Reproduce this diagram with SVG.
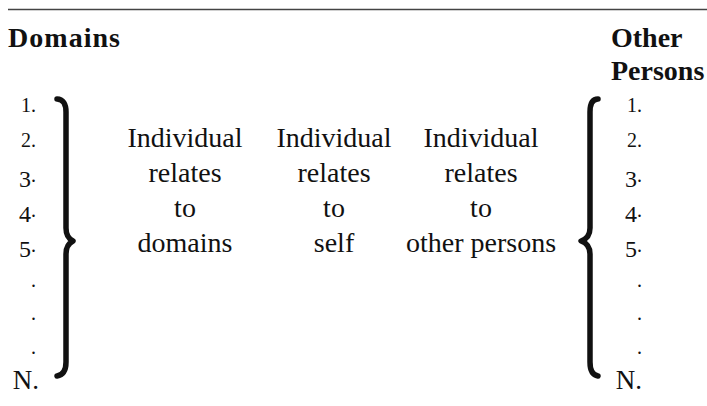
<svg xmlns="http://www.w3.org/2000/svg" width="707" height="406" viewBox="0 0 707 406">
<style>
  .t { font-family: "Liberation Serif", "Times New Roman", serif; font-size: 28px; fill: #111; text-anchor: middle; }
  .h { font-family: "Liberation Serif", "Times New Roman", serif; font-size: 28px; font-weight: bold; fill: #111; }
  .n { font-family: "Liberation Serif", "Times New Roman", serif; font-size: 20px; fill: #111; text-anchor: end; }
  .d { font-size: 24px; }
  .N { font-size: 27px; }
  .brace { fill: none; stroke: #111; stroke-width: 5.5; stroke-linecap: round; stroke-linejoin: round; }
  .rule { stroke: #444; stroke-width: 1.5; }
</style>
<rect width="707" height="406" fill="#fff"/>
<line class="rule" x1="8" y1="9.5" x2="707" y2="9.5"/>

<g id="domains-heading">
  <text class="h" x="8" y="47" textLength="112" lengthAdjust="spacing">Domains</text>
</g>
<g id="persons-heading">
  <text class="h" x="611" y="47">Other</text>
  <text class="h" x="611" y="80">Persons</text>
</g>

<g id="domains-list">
  <text class="n" x="36" y="112">1.</text>
  <text class="n" x="36" y="147">2.</text>
  <text class="n" x="36" y="182"><tspan class="d" dy="5">3</tspan><tspan dy="-5">.</tspan></text>
  <text class="n" x="36" y="217"><tspan class="d" dy="5">4</tspan><tspan dy="-5">.</tspan></text>
  <text class="n" x="36" y="252"><tspan class="d" dy="5">5</tspan><tspan dy="-5">.</tspan></text>
  <text class="n" x="36" y="287">.</text>
  <text class="n" x="36" y="320">.</text>
  <text class="n" x="36" y="354">.</text>
  <text class="n N" x="39" y="389">N.</text>
</g>

<g id="persons-list">
  <text class="n" x="642" y="112">1.</text>
  <text class="n" x="642" y="147">2.</text>
  <text class="n" x="642" y="182"><tspan class="d" dy="5">3</tspan><tspan dy="-5">.</tspan></text>
  <text class="n" x="642" y="217"><tspan class="d" dy="5">4</tspan><tspan dy="-5">.</tspan></text>
  <text class="n" x="642" y="252"><tspan class="d" dy="5">5</tspan><tspan dy="-5">.</tspan></text>
  <text class="n" x="642" y="287">.</text>
  <text class="n" x="642" y="320">.</text>
  <text class="n" x="642" y="354">.</text>
  <text class="n N" x="642" y="389">N.</text>
</g>

<g id="connectors">
  <path id="left-brace" class="brace" d="M57,99 C63,99 66,104 66,112 L66,228 C66,235 69,239 73,241 C69,243 66,247 66,254 L66,362 C66,370 63,375 57,376"/>
  <path id="right-brace" class="brace" d="M598,99 C592,99 590,104 590,112 L590,228 C590,235 587,239 581,241 C587,243 590,247 590,254 L590,362 C590,370 592,375 598,376"/>
</g>

<g id="col-domains">
  <text class="t" x="185" y="147">Individual</text>
  <text class="t" x="185" y="182">relates</text>
  <text class="t" x="185" y="217">to</text>
  <text class="t" x="185" y="252">domains</text>
</g>
<g id="col-self">
  <text class="t" x="334" y="147">Individual</text>
  <text class="t" x="334" y="182">relates</text>
  <text class="t" x="334" y="217">to</text>
  <text class="t" x="334" y="252">self</text>
</g>
<g id="col-others">
  <text class="t" x="481" y="147">Individual</text>
  <text class="t" x="481" y="182">relates</text>
  <text class="t" x="481" y="217">to</text>
  <text class="t" x="481" y="252">other persons</text>
</g>
</svg>
